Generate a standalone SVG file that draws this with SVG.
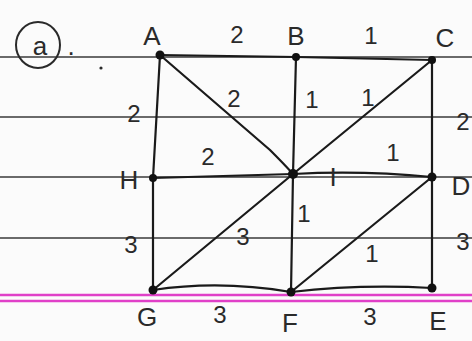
<svg xmlns="http://www.w3.org/2000/svg" width="472" height="341" viewBox="0 0 472 341">
<style>
.rule{stroke:#3a3a3a;stroke-width:1.6}
.pink{stroke:#e040c8;stroke-width:2.5}
.edge{stroke:#1a1a1a;stroke-width:2.2;fill:none;stroke-linecap:round}
.dot{fill:#111}
text{font-family:"Liberation Sans","DejaVu Sans",sans-serif;fill:#2a2a2a;text-anchor:middle}
.lbl{font-size:26px}
.w{font-size:24px}
</style>
<rect width="472" height="341" fill="#fbfbfb"/>
<g id="paper">
<line class="rule" x1="0" y1="57" x2="472" y2="57"/>
<line class="rule" x1="0" y1="117" x2="472" y2="117"/>
<line class="rule" x1="0" y1="177" x2="472" y2="177"/>
<line class="rule" x1="0" y1="238" x2="472" y2="238"/>
<line class="pink" x1="0" y1="295" x2="472" y2="295"/>
<line class="pink" x1="0" y1="301" x2="472" y2="301"/>
<ellipse cx="38" cy="45" rx="22" ry="23" fill="none" stroke="#2a2a2a" stroke-width="2"/>
<text x="40" y="55" class="lbl">a</text>
<text x="71" y="55" class="lbl">.</text>
<circle cx="101" cy="68" r="1.6" fill="#2a2a2a"/>
</g>
<g id="connectors">
<line class="edge" x1="160" y1="55" x2="296" y2="57"/>
<line class="edge" x1="296" y1="57" x2="432" y2="60"/>
<line class="edge" x1="160" y1="55" x2="153" y2="178"/>
<line class="edge" x1="153" y1="178" x2="153" y2="290"/>
<line class="edge" x1="432" y1="60" x2="432" y2="177"/>
<line class="edge" x1="432" y1="177" x2="432" y2="288"/>
<path class="edge" d="M153 290 Q220 280 291 292"/>
<path class="edge" d="M291 292 Q360 284 432 288"/>
<line class="edge" x1="296" y1="57" x2="293" y2="174"/>
<line class="edge" x1="293" y1="174" x2="291" y2="292"/>
<line class="edge" x1="153" y1="178" x2="293" y2="174"/>
<path class="edge" d="M293 174 Q360 170 432 177"/>
<path class="edge" d="M160 55 L270 150 Q285 165 293 174"/>
<line class="edge" x1="432" y1="60" x2="293" y2="174"/>
<line class="edge" x1="153" y1="290" x2="293" y2="174"/>
<line class="edge" x1="291" y1="292" x2="432" y2="177"/>
</g>
<g id="node-A"><circle class="dot" cx="160" cy="55" r="4.5"/><text x="152" y="45" class="lbl">A</text></g>
<g id="node-B"><circle class="dot" cx="296" cy="57" r="4"/><text x="296" y="45" class="lbl">B</text></g>
<g id="node-C"><circle class="dot" cx="432" cy="60" r="4"/><text x="445" y="47" class="lbl">C</text></g>
<g id="node-H"><circle class="dot" cx="153" cy="178" r="4"/><text x="129" y="189" class="lbl">H</text></g>
<g id="node-I"><circle class="dot" cx="293" cy="174" r="5"/><text x="333" y="186" class="lbl">I</text></g>
<g id="node-D"><circle class="dot" cx="432" cy="177" r="4.5"/><text x="461" y="195" class="lbl">D</text></g>
<g id="node-G"><circle class="dot" cx="153" cy="290" r="4.5"/><text x="147" y="326" class="lbl">G</text></g>
<g id="node-F"><circle class="dot" cx="291" cy="292" r="4.5"/><text x="290" y="332" class="lbl">F</text></g>
<g id="node-E"><circle class="dot" cx="432" cy="288" r="4.5"/><text x="438" y="330" class="lbl">E</text></g>
<g id="weights">
<text x="237" y="43" class="w">2</text>
<text x="371" y="44" class="w">1</text>
<text x="134" y="122" class="w">2</text>
<text x="463" y="130" class="w">2</text>
<text x="131" y="253" class="w">3</text>
<text x="463" y="250" class="w">3</text>
<text x="220" y="323" class="w">3</text>
<text x="370" y="325" class="w">3</text>
<text x="234" y="107" class="w">2</text>
<text x="312" y="108" class="w">1</text>
<text x="368" y="106" class="w">1</text>
<text x="208" y="165" class="w">2</text>
<text x="393" y="161" class="w">1</text>
<text x="243" y="245" class="w">3</text>
<text x="304" y="222" class="w">1</text>
<text x="372" y="262" class="w">1</text>
</g>
</svg>
